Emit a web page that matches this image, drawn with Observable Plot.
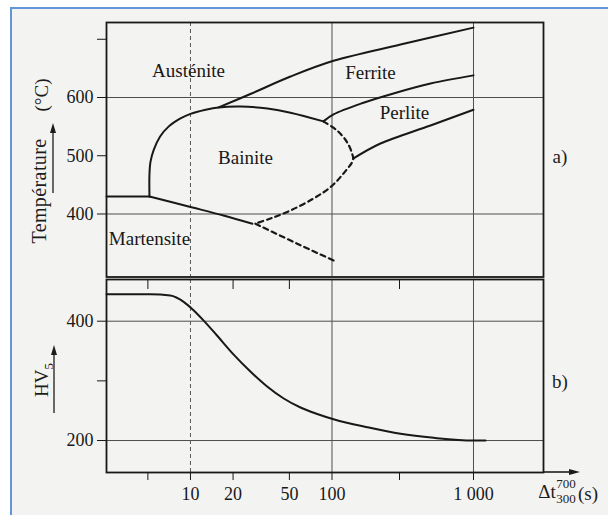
<!DOCTYPE html>
<html><head><meta charset="utf-8">
<script src="https://cdn.jsdelivr.net/npm/d3@7"></script>
<script src="https://cdn.jsdelivr.net/npm/@observablehq/plot@0.6"></script>
<style>
html,body{margin:0;padding:0;background:#fff;}
#wrap{position:relative;width:608px;height:515px;overflow:hidden;font-family:"Liberation Serif",serif;color:#1c1c1c;}
#paper{position:absolute;left:10px;top:7px;width:620px;height:530px;border:2.5px solid #6396d8;background:#f3f3f1;box-sizing:border-box;}
.abs{position:absolute;white-space:nowrap;line-height:1;}
.ctr{transform:translate(-50%,-50%);}
.rot{transform:translate(-50%,-50%) rotate(-90deg);}
svg{overflow:visible;}
</style></head><body>
<div id="wrap">
  <div id="paper"></div>
  <div id="top" class="abs" style="left:0;top:0"></div>
  <div id="bot" class="abs" style="left:0;top:270px"></div>
  <div class="abs rot" style="left:39px;top:191px;font-size:20px;letter-spacing:0.4px">Température</div>
  <div class="abs rot" style="left:41px;top:95px;font-size:19px">(°C)</div>
  <div class="abs rot" style="left:41px;top:380px;font-size:19px">HV<span style="font-size:13px;position:relative;top:5px">5</span></div>
  <div class="abs ctr" style="left:560px;top:156px;font-size:19px">a)</div>
  <div class="abs ctr" style="left:560px;top:381px;font-size:19px">b)</div>
  <div class="abs ctr" style="left:547px;top:491px;font-size:19px">Δt</div>
  <div class="abs ctr" style="left:566px;top:483px;font-size:13px">700</div>
  <div class="abs ctr" style="left:566px;top:498px;font-size:13px">300</div>
  <div class="abs ctr" style="left:588px;top:493px;font-size:19px">(s)</div>
  <svg class="abs" style="left:0;top:0" width="608" height="515">
    <line x1="53" y1="193" x2="53" y2="131" stroke="#1c1c1c" stroke-width="1.3"/>
    <polygon points="53,123 50,133 56,133" fill="#1c1c1c"/>
    <line x1="54" y1="413" x2="54" y2="353" stroke="#1c1c1c" stroke-width="1.3"/>
    <polygon points="54,345 51,355 57,355" fill="#1c1c1c"/>
    <line x1="543" y1="472" x2="571" y2="472" stroke="#1c1c1c" stroke-width="1.6"/>
    <polygon points="580,472 569,469 569,475" fill="#1c1c1c"/>
  </svg>
</div>
<script>
// ---- data (time in s, temperature in °C, hardness HV5) ----
const timeDomain = [2.55, 3124];
const tempDomain = [291.8, 728.8];
const hvDomain = [146.4, 469.9];

const tempTicks = [400, 500, 600, 700];
const tempTickLabels = ["400", "500", "600", ""];
const tempGrid = [400, 600];

const hvTicks = [200, 300, 400];
const hvTickLabels = ["200", "", "400"];
const hvGrid = [200, 400];

const timeTicks = [5, 10, 20, 50, 100, 300, 1000];
const timeTickLabels = ["", "10", "20", "50", "100", "", "1 000"];
const timeInnerTicks = [5, 20, 50, 300];
const timeGrid = [100, 1000];
const timeDashed = [10];

const martensiteStart = [[2.55, 430], [5.13, 430]];
const bainiteStart = [[5.13, 430], [5.13, 468], [5.22, 490], [5.5, 510], [6.1, 533], [7.0, 550], [8.5, 564], [10, 572], [12.8, 579], [15.8, 583], [22.6, 584.5], [35, 581], [50.9, 574], [87, 559]];
const bainiteLower = [[5.13, 430], [10, 412], [17.1, 397.4], [27.4, 383.2]];
const ferriteStart = [[15.8, 583], [26.5, 606], [50.9, 636], [102.5, 663], [305, 691], [1000, 720]];
const pearliteStart = [[87, 559], [102.5, 571], [167, 591], [272, 607], [497, 624], [1000, 638]];
const pearliteEnd = [[141, 495], [220, 521], [497, 552], [1000, 579]];
const bainiteEnd = [[87, 559], [109, 543], [128, 523], [139, 503], [141, 493], [120.5, 469.5], [97.5, 446], [74, 426.6], [50.9, 406], [36.8, 392.3], [28.8, 383.7]];
const martensiteEnd = [[28.8, 383.2], [56.8, 349], [103, 320]];

const regionNames = ["Austénite", "Ferrite", "Perlite", "Bainite", "Martensite"];
const regionTime = [9.68, 187, 325, 24.5, 5.13];
const regionTemp = [646, 643, 574, 497, 358];

const hardness = [[2.55, 445], [5.2, 445], [7.2, 443], [9, 432], [10.55, 418], [12.4, 401], [15.4, 376], [20.2, 344], [26.5, 315.7], [34.8, 290.5], [45.6, 270.4], [59.9, 255.3], [78.6, 244.4], [104, 235.2], [177, 222.3], [305, 211.2], [524, 204.5], [1005, 200], [1216, 200]];

// ---- drawing ----
const ink = "#181818";
const gridInk = "#4e4e4e";
const font = "Liberation Serif";
const pts = a => a.map(([t, v]) => ({t, v}));
const solid = (a, curve = "catmull-rom") => Plot.line(pts(a), {x: "t", y: "v", curve, stroke: ink, strokeWidth: 2});
const dashed = a => Plot.line(pts(a), {x: "t", y: "v", curve: "catmull-rom", stroke: ink, strokeWidth: 2.2, strokeDasharray: "5,4"});
const style = {background: "transparent", fontFamily: font, fontSize: "18px", color: ink, overflow: "visible"};
const regions = regionNames.map((name, i) => ({name, t: regionTime[i], v: regionTemp[i]}));

const topChart = Plot.plot({
  width: 608, height: 290,
  marginLeft: 106, marginRight: 65, marginTop: 22, marginBottom: 13.5,
  style,
  x: {type: "log", domain: timeDomain, axis: null},
  y: {domain: tempDomain},
  marks: [
    Plot.gridY(tempGrid, {stroke: gridInk, strokeOpacity: 1, strokeWidth: 1}),
    Plot.gridX(timeGrid, {stroke: gridInk, strokeOpacity: 1, strokeWidth: 1}),
    Plot.gridX(timeDashed, {stroke: "#5a5a5a", strokeOpacity: 1, strokeWidth: 1, strokeDasharray: "4,3"}),
    Plot.axisY(tempTicks, {anchor: "left", tickSize: 9, tickPadding: 4, fontSize: 18, label: null,
      text: d => tempTickLabels[tempTicks.indexOf(d)]}),
    solid(martensiteStart),
    solid(bainiteStart),
    solid(bainiteLower),
    solid(ferriteStart),
    solid(pearliteStart),
    solid(pearliteEnd),
    dashed(bainiteEnd),
    dashed(martensiteEnd),
    Plot.text(regions, {x: "t", y: "v", text: "name", fontSize: 19, fill: ink}),
    Plot.frame({stroke: ink, strokeWidth: 1.8})
  ]
});
document.getElementById("top").appendChild(topChart);

const botChart = Plot.plot({
  width: 608, height: 245,
  marginLeft: 106, marginRight: 65, marginTop: 9, marginBottom: 43,
  style,
  x: {type: "log", domain: timeDomain},
  y: {domain: hvDomain},
  marks: [
    Plot.gridY(hvGrid, {stroke: gridInk, strokeOpacity: 1, strokeWidth: 1}),
    Plot.gridX(timeGrid, {stroke: gridInk, strokeOpacity: 1, strokeWidth: 1}),
    Plot.gridX(timeDashed, {stroke: "#5a5a5a", strokeOpacity: 1, strokeWidth: 1, strokeDasharray: "4,3"}),
    Plot.axisY(hvTicks, {anchor: "left", tickSize: 9, tickPadding: 4, fontSize: 18, label: null,
      text: d => hvTickLabels[hvTicks.indexOf(d)]}),
    Plot.axisX(timeTicks, {anchor: "bottom", tickSize: 8, tickPadding: 7, fontSize: 18, label: null,
      text: d => timeTickLabels[timeTicks.indexOf(d)]}),
    Plot.axisX(timeInnerTicks, {anchor: "top", tickSize: -9, fontSize: 18, label: null,
      text: () => ""}),
    solid(hardness, "monotone-x"),
    Plot.frame({stroke: ink, strokeWidth: 1.8})
  ]
});
document.getElementById("bot").appendChild(botChart);
</script>
</body></html>
